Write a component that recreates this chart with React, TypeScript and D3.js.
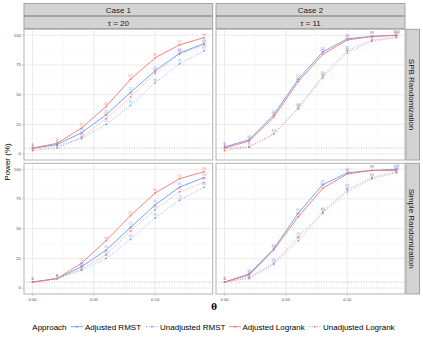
import React from "react";
import * as d3 from "d3";

const thetas = [0, 0.02, 0.04, 0.06, 0.08, 0.1, 0.12, 0.14];
const approaches = ["Adjusted RMST", "Unadjusted RMST", "Adjusted Logrank", "Unadjusted Logrank"];
const approachColors = ["#619CFF", "#619CFF", "#F8766D", "#F8766D"];
const approachDotted = [false, true, false, true];
const caseLabels = ["Case 1", "Case 2"];
const tauLabels = ["τ = 20", "τ = 11"];
const rowLabels = ["SPB Randomization", "Simple Randomization"];
const yTicks = [0, 25, 50, 75, 100];
const xTicks = [0, 0.05, 0.1];
const xTickLabels = ["0.00", "0.05", "0.10"];

// Case 1, SPB randomization
const c1SpbAdjRmst = [5, 8, 18, 33, 52, 70, 85, 93];
const c1SpbUnadjRmst = [4, 7, 13, 25, 41, 60, 76, 87];
const c1SpbAdjLr = [5, 9, 22, 40, 63, 81, 92, 98];
const c1SpbUnadjLr = [3, 5, 14, 30, 48, 68, 84, 92];
// Case 2, SPB randomization
const c2SpbAdjRmst = [6, 12, 33, 63, 86, 97, 99, 100];
const c2SpbUnadjRmst = [5, 6, 17, 39, 66, 87, 96, 99];
const c2SpbAdjLr = [5, 11, 31, 61, 84, 96, 99, 100];
const c2SpbUnadjLr = [3, 6, 17, 38, 64, 85, 95, 98];
// Case 1, Simple randomization
const c1SimAdjRmst = [5, 8, 18, 32, 51, 70, 85, 93];
const c1SimUnadjRmst = [5, 8, 15, 25, 41, 59, 74, 85];
const c1SimAdjLr = [5, 8, 21, 40, 61, 80, 92, 98];
const c1SimUnadjLr = [5, 8, 16, 28, 48, 66, 81, 89];
// Case 2, Simple randomization
const c2SimAdjRmst = [5, 12, 33, 63, 87, 97, 99, 100];
const c2SimUnadjRmst = [5, 9, 21, 43, 64, 83, 93, 98];
const c2SimAdjLr = [5, 11, 32, 60, 84, 96, 99, 99];
const c2SimUnadjLr = [5, 8, 20, 40, 63, 81, 92, 97];

const panels = [
  [[c1SpbAdjRmst, c1SpbUnadjRmst, c1SpbAdjLr, c1SpbUnadjLr], [c2SpbAdjRmst, c2SpbUnadjRmst, c2SpbAdjLr, c2SpbUnadjLr]],
  [[c1SimAdjRmst, c1SimUnadjRmst, c1SimAdjLr, c1SimUnadjLr], [c2SimAdjRmst, c2SimUnadjRmst, c2SimAdjLr, c2SimUnadjLr]],
];

const FONT = "'Liberation Sans', Arial, Helvetica, sans-serif";
const colX = [[24, 212.7], [216, 405]];
const rowY = [[29.3, 160], [163.3, 294]];
const labelOrder = [3, 2, 1, 0];

export default function App() {
  const stripFill = "#D3D3D3";
  const stripStroke = "#A3A3A3";
  const panelStroke = "#B3B3B3";
  const els: React.ReactNode[] = [];

  colX.forEach(([x0, x1], ci) => {
    els.push(
      <g key={`cs${ci}`}>
        <rect x={x0} y={3.5} width={x1 - x0} height={12} fill={stripFill} stroke={stripStroke} strokeWidth={1} />
        <text x={(x0 + x1) / 2} y={12.6} textAnchor="middle" fontSize={8} fill="#1A1A1A" fontFamily={FONT}>{caseLabels[ci]}</text>
        <rect x={x0} y={16.5} width={x1 - x0} height={12} fill={stripFill} stroke={stripStroke} strokeWidth={1} />
        <text x={(x0 + x1) / 2} y={25.6} textAnchor="middle" fontSize={8} fill="#1A1A1A" fontFamily={FONT}>{tauLabels[ci]}</text>
      </g>
    );
  });

  rowY.forEach(([y0, y1], ri) => {
    els.push(
      <g key={`rs${ri}`}>
        <rect x={406} y={y0} width={13.5} height={y1 - y0} fill={stripFill} stroke={stripStroke} strokeWidth={1} />
        <text transform={`translate(409.3,${(y0 + y1) / 2}) rotate(90)`} textAnchor="middle" fontSize={8} fill="#1A1A1A" fontFamily={FONT}>{rowLabels[ri]}</text>
      </g>
    );
    colX.forEach(([x0, x1], ci) => {
      const x = d3.scaleLinear().domain([-0.007, 0.147]).range([x0, x1]);
      const y = d3.scaleLinear().domain([-5, 105]).range([y1, y0]);
      const series = panels[ri][ci];
      const line = d3
        .line<number>()
        .x((_, i) => x(thetas[i]))
        .y((d) => y(d));
      const minorX = [0.025, 0.075, 0.125];
      const minorY = [12.5, 37.5, 62.5, 87.5];
      els.push(
        <g key={`p${ri}${ci}`}>
          <rect x={x0} y={y0} width={x1 - x0} height={y1 - y0} fill="white" />
          {minorX.map((t) => (
            <line key={`mx${t}`} x1={x(t)} x2={x(t)} y1={y0} y2={y1} stroke="#F2F2F2" strokeWidth={0.5} />
          ))}
          {minorY.map((t) => (
            <line key={`my${t}`} x1={x0} x2={x1} y1={y(t)} y2={y(t)} stroke="#F2F2F2" strokeWidth={0.5} />
          ))}
          {xTicks.map((t) => (
            <line key={`gx${t}`} x1={x(t)} x2={x(t)} y1={y0} y2={y1} stroke="#E6E6E6" strokeWidth={0.8} />
          ))}
          {yTicks.map((t) => (
            <line key={`gy${t}`} x1={x0} x2={x1} y1={y(t)} y2={y(t)} stroke="#E6E6E6" strokeWidth={0.8} />
          ))}
          <line x1={x0} x2={x1} y1={y(5)} y2={y(5)} stroke="#8C8C8C" strokeWidth={0.6} strokeDasharray="1,1.5" />
          {series.map((vals, si) => (
            <path
              key={`l${si}`}
              d={line(vals) || ""}
              fill="none"
              stroke={approachColors[si]}
              strokeWidth={approachDotted[si] ? 0.7 : 0.9}
              strokeDasharray={approachDotted[si] ? "1,1.6" : undefined}
            />
          ))}
          {series.map((vals, si) =>
            vals.map((v, i) => (
              <circle key={`pt${si}-${i}`} cx={x(thetas[i])} cy={y(v)} r={0.9} fill={approachColors[si]} />
            ))
          )}
          {labelOrder.map((si) =>
            series[si].map((v, i) => (
              <text
                key={`tx${si}-${i}`}
                x={x(thetas[i])}
                y={y(v) - 2}
                textAnchor="middle"
                fontSize={3.8}
                fill={approachColors[si]}
                opacity={0.75}
                fontFamily={FONT}
              >
                {Math.round(v)}
              </text>
            ))
          )}
          <rect x={x0} y={y0} width={x1 - x0} height={y1 - y0} fill="none" stroke={panelStroke} strokeWidth={1} />
          {ci === 0 &&
            yTicks.map((t) => (
              <g key={`yt${t}`}>
                <line x1={x0 - 2} x2={x0} y1={y(t)} y2={y(t)} stroke="#B3B3B3" strokeWidth={0.6} />
                <text x={x0 - 3} y={y(t) + 1.4} textAnchor="end" fontSize={4.3} fill="#4D4D4D" fontFamily={FONT}>{t}</text>
              </g>
            ))}
          {ri === 1 &&
            xTicks.map((t, k) => (
              <g key={`xt${t}`}>
                <line x1={x(t)} x2={x(t)} y1={y1} y2={y1 + 2} stroke="#B3B3B3" strokeWidth={0.6} />
                <text x={x(t)} y={y1 + 7} textAnchor="middle" fontSize={4.3} fill="#4D4D4D" fontFamily={FONT}>{xTickLabels[k]}</text>
              </g>
            ))}
        </g>
      );
    });
  });

  els.push(
    <text key="yt" transform="translate(10,162) rotate(-90)" textAnchor="middle" fontSize={8} fill="#000" fontFamily={FONT}>Power (%)</text>
  );
  els.push(
    <text key="xt" x={214} y={309.5} textAnchor="middle" fontSize={8.5} fill="#000" fontFamily="'DejaVu Serif', serif" fontWeight="bold">θ</text>
  );

  const legY = 326.7;
  const keyX = [71, 146, 229, 309];
  const textX = [85, 160, 242.5, 323];
  els.push(
    <g key="legend">
      <text x={32.3} y={legY + 2.8} fontSize={8} fill="#000" fontFamily={FONT}>Approach</text>
      {approaches.map((a, i) => (
        <g key={a}>
          <line x1={keyX[i]} x2={keyX[i] + 12} y1={legY} y2={legY} stroke={approachColors[i]} strokeWidth={0.9} strokeDasharray={approachDotted[i] ? "1,1.6" : undefined} />
          <circle cx={keyX[i] + 6} cy={legY} r={0.9} fill={approachColors[i]} />
          <text x={textX[i]} y={legY + 2.8} fontSize={8} fill="#000" fontFamily={FONT}>{a}</text>
        </g>
      ))}
    </g>
  );

  return (
    <svg width={423} height={338} style={{ position: "absolute", left: 0, top: 0, background: "white" }}>
      <rect width={423} height={338} fill="white" />
      {els}
    </svg>
  );
}
